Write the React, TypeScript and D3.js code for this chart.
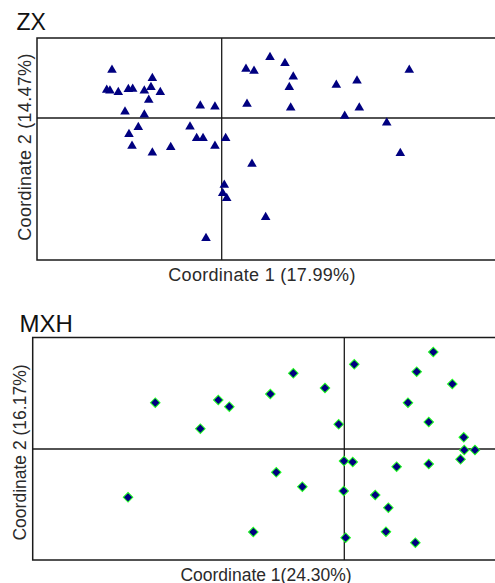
import React, { useEffect, useRef } from 'react';
import * as d3 from 'd3';

// ZX panel (PCoA, triangles)
const zxX = [
  -0.1188, -0.1245, -0.121, -0.112, -0.1011, -0.0964, -0.0838, -0.0766, -0.0751, -0.0665,
  -0.079, -0.1047, -0.0838, -0.0232, -0.0073, 0.0263, 0.035, 0.0523, 0.0685, 0.0775,
  0.0732, 0.0274, 0.0747, 0.1241, 0.1465, 0.2031, 0.1332, 0.149, 0.1787, -0.0903,
  -0.1004, -0.0971, -0.0751, -0.0552, -0.0343, -0.0271, -0.0202, -0.0073, 0.0043, 0.0028,
  0.0011, 0.0054, -0.017, 0.0328, 0.0476, 0.1934,
];
const zxY = [
  0.048, 0.028, 0.0273, 0.0257, 0.0287, 0.029, 0.0273, 0.0307, 0.0397, 0.0257,
  0.018, 0.0063, 0.0033, 0.0123, 0.0113, 0.049, 0.047, 0.0607, 0.0547, 0.0413,
  0.0307, 0.014, 0.0103, 0.033, 0.0373, 0.048, 0.002, 0.0103, -0.0047, -0.0093,
  -0.0163, -0.028, -0.0347, -0.0293, -0.0087, -0.0203, -0.0203, -0.028, -0.0203, -0.067,
  -0.0753, -0.0803, -0.1203, -0.046, -0.0993, -0.0353,
];

// MXH panel (PCoA, diamonds)
const mxhX = [
  -0.182, -0.1213, -0.1107, -0.1386, -0.0712, -0.0491, -0.0186, -0.0054, 0.0096, 0.0857,
  0.0697, 0.104, 0.0613, 0.0813, 0.115, 0.1155, 0.1258, 0.1119, -0.0003, 0.0081,
  0.0504, 0.0813, -0.0655, -0.0404, -0.2082, -0.0006, 0.0298, 0.0424, -0.0876, 0.0401,
  0.0013, 0.0684,
];
const mxhY = [
  0.0463, 0.049, 0.0423, 0.0203, 0.055, 0.0757, 0.061, 0.0247, 0.0847, 0.097,
  0.0773, 0.065, 0.0463, 0.027, 0.0117, -0.001, -0.001, -0.0103, -0.012, -0.013,
  -0.0177, -0.015, -0.0233, -0.0377, -0.0483, -0.042, -0.046, -0.0587, -0.083, -0.0827,
  -0.0887, -0.0937,
];

const panels = [
  {
    title: 'ZX', titleSize: 23, titleX: 16.5, titleY: 29.5,
    xs: zxX, ys: zxY, xDomain: [-0.2, 0.3], yDomain: [-0.142, 0.08],
    left: 37, right: 498.75, top: 38, bottom: 260,
    xLabel: 'Coordinate 1 (17.99%)', xLabelX: 262, xLabelY: 280.5,
    yLabel: 'Coordinate 2 (14.47%)', yLabelX: 30.5, yLabelY: 147,
    labelSize: 18, spacing: 0.3,
    marker: 'triangle',
  },
  {
    title: 'MXH', titleSize: 24, titleX: 19.5, titleY: 331.5,
    xs: mxhX, ys: mxhY, xDomain: [-0.3, 0.15], yDomain: [-0.111, 0.1115],
    left: 32.7, right: 500.1, top: 337.5, bottom: 560,
    xLabel: 'Coordinate 1(24.30%)', xLabelX: 266, xLabelY: 580.5,
    yLabel: 'Coordinate 2 (16.17%)', yLabelX: 25.5, yLabelY: 452.5,
    labelSize: 17.5, spacing: 0,
    marker: 'diamond',
  },
];

export default function App() {
  const svgRef = useRef<SVGSVGElement>(null);

  useEffect(() => {
    const svg = d3.select(svgRef.current);
    svg.selectAll('*').remove();
    const font = '"Liberation Sans", Arial, sans-serif';

    panels.forEach((p) => {
      const x = d3.scaleLinear().domain(p.xDomain).range([p.left, p.right]);
      const y = d3.scaleLinear().domain(p.yDomain).range([p.bottom, p.top]);
      const g = svg.append('g');

      g.append('text')
        .attr('x', p.titleX)
        .attr('y', p.titleY)
        .attr('font-family', font)
        .attr('font-size', p.titleSize)
        .attr('fill', '#111')
        .text(p.title);

      // frame
      g.append('rect')
        .attr('x', p.left)
        .attr('y', p.top)
        .attr('width', p.right - p.left)
        .attr('height', p.bottom - p.top)
        .attr('fill', 'none')
        .attr('stroke', '#1a1a1a')
        .attr('stroke-width', 1.5);

      // zero lines
      g.append('line')
        .attr('x1', x(0)).attr('x2', x(0))
        .attr('y1', p.top).attr('y2', p.bottom)
        .attr('stroke', '#1a1a1a').attr('stroke-width', 1.3);
      g.append('line')
        .attr('x1', p.left).attr('x2', p.right)
        .attr('y1', y(0)).attr('y2', y(0))
        .attr('stroke', '#1a1a1a').attr('stroke-width', 1.3);

      const pts = p.xs.map((v, i) => [v, p.ys[i]]);
      const sym = p.marker === 'triangle'
        ? d3.symbol().type(d3.symbolTriangle).size(40)
        : d3.symbol().type(d3.symbolSquare).size(46);

      g.selectAll('path.pt')
        .data(pts)
        .join('path')
        .attr('class', 'pt')
        .attr('d', sym())
        .attr('transform', (d) =>
          `translate(${x(d[0])},${y(d[1])})` + (p.marker === 'diamond' ? ' rotate(45)' : ''))
        .attr('fill', '#000080')
        .attr('stroke', p.marker === 'diamond' ? '#22ff22' : 'none')
        .attr('stroke-width', 1);

      g.append('text')
        .attr('x', p.xLabelX)
        .attr('y', p.xLabelY)
        .attr('text-anchor', 'middle')
        .attr('font-family', font)
        .attr('font-size', p.labelSize)
        .attr('letter-spacing', p.spacing)
        .attr('fill', '#2a2a2a')
        .text(p.xLabel);

      g.append('text')
        .attr('transform', `translate(${p.yLabelX},${p.yLabelY}) rotate(-90)`)
        .attr('text-anchor', 'middle')
        .attr('font-family', font)
        .attr('font-size', p.labelSize)
        .attr('letter-spacing', p.spacing)
        .attr('fill', '#2a2a2a')
        .text(p.yLabel);
    });
  }, []);

  return (
    <svg
      ref={svgRef}
      width={495}
      height={583}
      style={{ position: 'absolute', left: 0, top: 0, background: '#fff' }}
    />
  );
}
